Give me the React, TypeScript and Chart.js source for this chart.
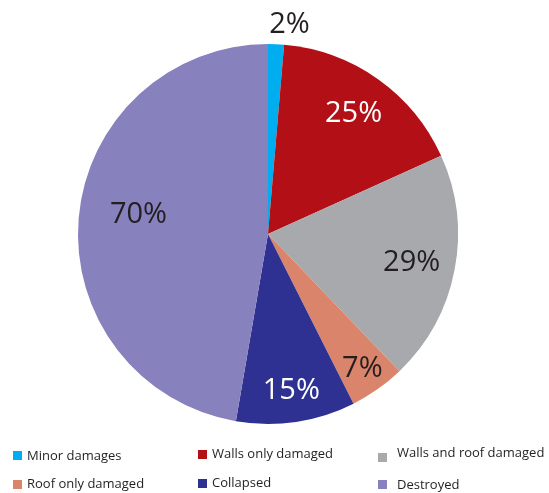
import React, { useEffect, useRef } from "react";
import { Chart, registerables } from "chart.js";

Chart.register(...registerables);

const categories = [
  "Minor damages",
  "Walls only damaged",
  "Walls and roof damaged",
  "Roof only damaged",
  "Collapsed",
  "Destroyed",
];
const values = [2, 25, 29, 7, 15, 70];
const valueLabels = ["2%", "25%", "29%", "7%", "15%", "70%"];
const colors = ["#00AEEF", "#B20F17", "#A7A9AC", "#DA846B", "#2E3092", "#8781BE"];
const labelColors = ["#231F20", "#FFFFFF", "#231F20", "#231F20", "#FFFFFF", "#231F20"];
const labelRadius = [1.11, 0.78, 0.77, 0.86, 0.83, 0.69];
const labelAngleShift = [0.06, 0, 0, 0, 0, 0.07];

// legend layout (per column / row)
const legendMarkerX = [13, 198, 378];
const legendTextX = [27, 212, 397];
const legendMarkerY = [
  [455.5, 454, 457],
  [484, 483, 484],
];
const legendTextY = [
  [455, 453, 452],
  [483, 482, 484],
];

const FONT = "'Open Sans', 'Noto Sans', sans-serif";

const sliceLabels = {
  id: "sliceLabels",
  afterDatasetsDraw(chart: any) {
    const ctx = chart.ctx;
    const meta = chart.getDatasetMeta(0);
    ctx.save();
    ctx.font = `400 29px ${FONT}`;
    ctx.textAlign = "center";
    ctx.textBaseline = "middle";
    meta.data.forEach((arc: any, i: number) => {
      const { x, y, startAngle, endAngle, outerRadius } = arc.getProps(
        ["x", "y", "startAngle", "endAngle", "outerRadius"],
        true
      );
      const mid = (startAngle + endAngle) / 2 + labelAngleShift[i];
      const r = outerRadius * labelRadius[i];
      ctx.fillStyle = labelColors[i];
      ctx.fillText(valueLabels[i], x + Math.cos(mid) * r, y + Math.sin(mid) * r + 1);
    });
    ctx.restore();
  },
};

export default function App() {
  const ref = useRef<HTMLCanvasElement>(null);
  useEffect(() => {
    if (!ref.current) return;
    const chart = new Chart(ref.current, {
      type: "pie",
      data: {
        labels: categories,
        datasets: [
          {
            data: values,
            backgroundColor: colors,
            borderWidth: 0,
          },
        ],
      },
      options: {
        responsive: false,
        animation: false,
        layout: { padding: { left: 78, right: 91, top: 44, bottom: 69 } },
        plugins: {
          legend: { display: false },
          tooltip: { enabled: false },
        },
      },
      plugins: [sliceLabels],
    });
    return () => chart.destroy();
  }, []);

  return (
    <div
      style={{
        position: "fixed",
        left: 0,
        top: 0,
        width: 549,
        height: 493,
        background: "#fff",
        fontFamily: FONT,
      }}
    >
      <canvas ref={ref} width={549} height={493} style={{ display: "block" }} />
      {categories.map((c, i) => {
        const col = i % 3;
        const row = Math.floor(i / 3);
        return (
          <React.Fragment key={c}>
            <span
              style={{
                position: "absolute",
                left: legendMarkerX[col],
                top: legendMarkerY[row][col] - 4.5,
                width: 9,
                height: 9,
                background: colors[i],
              }}
            />
            <span
              style={{
                position: "absolute",
                left: legendTextX[col],
                top: legendTextY[row][col] - 9,
                lineHeight: "18px",
                fontSize: 13,
                color: "#231F20",
                whiteSpace: "nowrap",
              }}
            >
              {c}
            </span>
          </React.Fragment>
        );
      })}
    </div>
  );
}
